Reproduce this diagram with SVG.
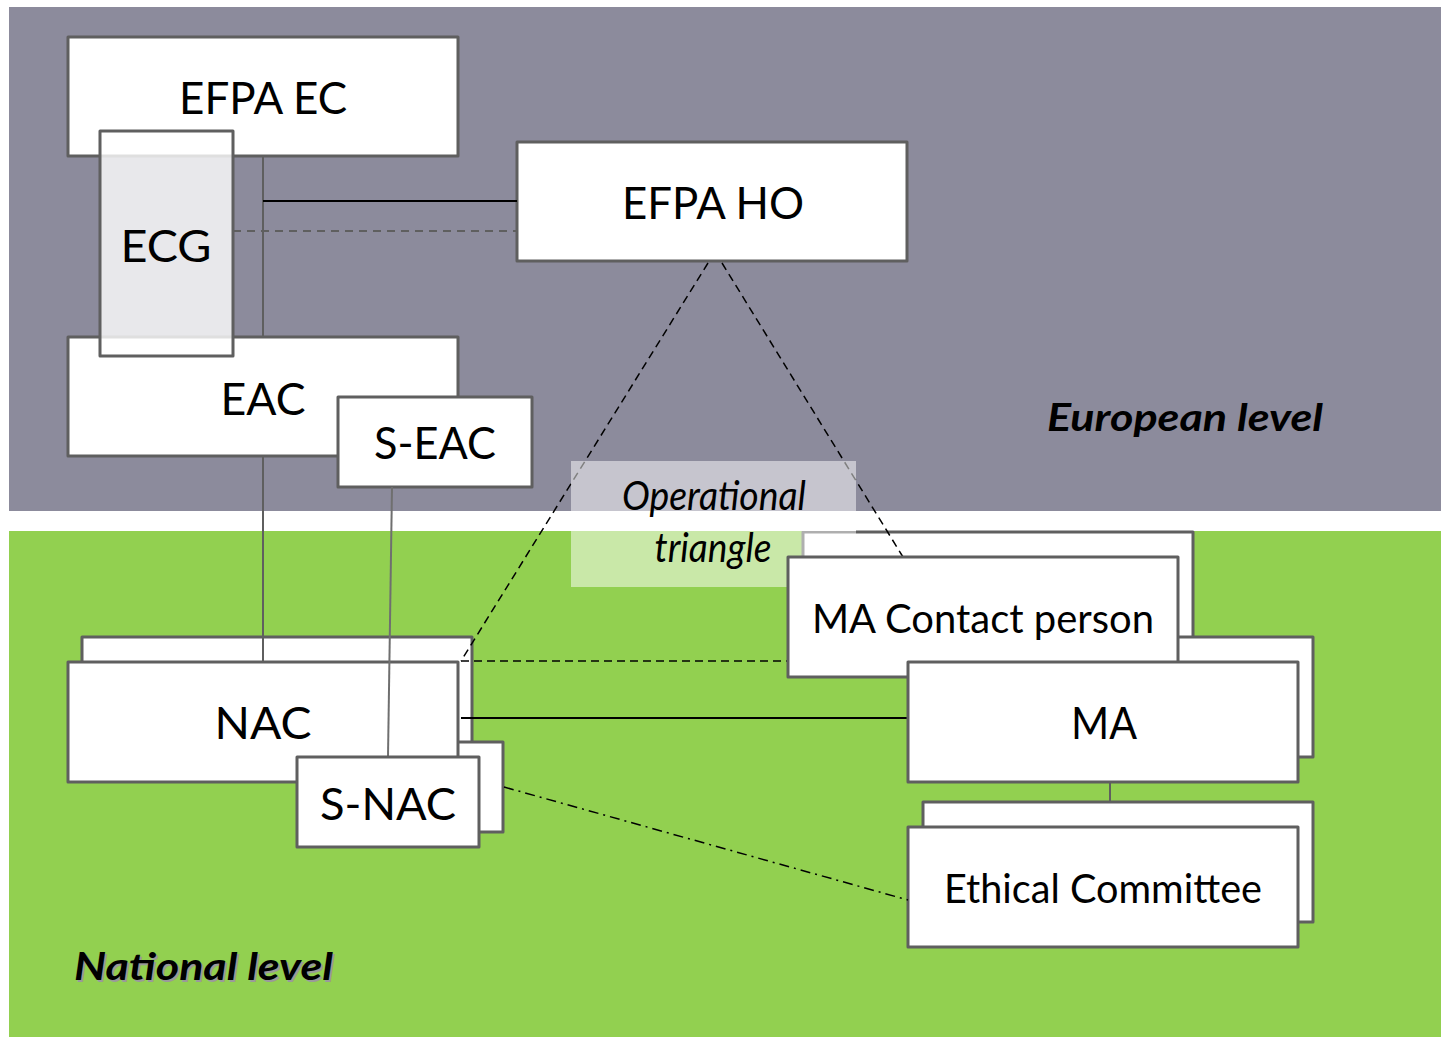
<svg xmlns="http://www.w3.org/2000/svg" width="1441" height="1037" viewBox="0 0 1441 1037">
<style>
.box{fill:#fff;stroke:#5f5f5f;stroke-width:3;stroke-linejoin:round}
.lbl{font-family:Lato,"Open Sans","Liberation Sans",sans-serif;fill:#000;text-anchor:middle}
.big{font-size:44px}
.mid{font-size:40px}
.lvl{font-family:Lato,"Open Sans","Liberation Sans",sans-serif;font-size:38px;font-weight:bold;font-style:italic}
.gl{stroke:#5f5f5f;stroke-width:2;fill:none}
.bl{stroke:#000;stroke-width:2;fill:none}
.dash{stroke:#000;stroke-width:1.5;stroke-dasharray:8 5;fill:none}
</style>
<rect width="1441" height="1037" fill="#fff"/>
<rect x="9" y="7" width="1432" height="504" fill="#8c8b9c"/>
<rect x="9" y="531" width="1432" height="506" fill="#92d050"/>
<text class="lvl" x="1047" y="431" textLength="276" lengthAdjust="spacingAndGlyphs">European level</text>
<text class="lvl" x="76" y="982" fill="#9a9a9a" textLength="259" lengthAdjust="spacingAndGlyphs">National level</text>
<text class="lvl" x="74" y="980" textLength="259" lengthAdjust="spacingAndGlyphs">National level</text>

<g id="efpa-ec"><rect class="box" x="68" y="37" width="390" height="119"/><text class="lbl big" x="263" y="114" textLength="168" lengthAdjust="spacingAndGlyphs">EFPA EC</text></g>
<g id="efpa-ho"><rect class="box" x="517" y="142" width="390" height="119"/><text class="lbl big" x="713" y="219" textLength="182" lengthAdjust="spacingAndGlyphs">EFPA HO</text></g>
<g id="eac"><rect class="box" x="68" y="337" width="390" height="119"/><text class="lbl big" x="263" y="415" textLength="85" lengthAdjust="spacingAndGlyphs">EAC</text></g>
<g id="s-eac"><rect class="box" x="338" y="397" width="194" height="90"/><text class="lbl big" x="435" y="459" textLength="122" lengthAdjust="spacingAndGlyphs">S-EAC</text></g>
<g id="nac"><rect class="box" x="82" y="637" width="390" height="120"/><rect class="box" x="321" y="742" width="182" height="90"/><rect class="box" x="68" y="662" width="390" height="120"/><text class="lbl big" x="263" y="739" textLength="97" lengthAdjust="spacingAndGlyphs">NAC</text></g>
<g id="ma-contact-stack"><rect class="box" x="803" y="532" width="390" height="120"/></g>
<g id="ma-stack"><rect class="box" x="923" y="637" width="390" height="120"/></g>
<g id="ethical-committee"><rect class="box" x="923" y="802" width="390" height="120"/><rect class="box" x="908" y="827" width="390" height="120"/><text class="lbl mid" x="1103" y="903" textLength="318" lengthAdjust="spacingAndGlyphs">Ethical Committee</text></g>

<g id="connectors">
<line class="gl" x1="263" y1="156" x2="263" y2="337"/>
<line class="bl" x1="263" y1="201" x2="517" y2="201"/>
<line x1="233" y1="231" x2="517" y2="231" stroke="#5f5f5f" stroke-width="2" stroke-dasharray="8 6"/>
<line class="gl" x1="263" y1="456" x2="263" y2="662"/>
<line x1="392" y1="487" x2="388" y2="757" stroke="#6f6f6f" stroke-width="2"/>
<line class="dash" x1="708" y1="263" x2="461" y2="661"/>
<line class="dash" x1="722" y1="263" x2="903" y2="557"/>
<line class="dash" x1="461" y1="661" x2="788" y2="661"/>
<line class="bl" x1="461" y1="718" x2="908" y2="718"/>
<line x1="504" y1="787" x2="908" y2="900" stroke="#000" stroke-width="1.5" stroke-dasharray="10 5 2 5"/>
<line class="gl" x1="1110" y1="782" x2="1110" y2="802"/>
</g>

<g id="ecg"><rect x="100" y="131" width="133" height="225" fill="#fff" fill-opacity="0.8" stroke="#5f5f5f" stroke-width="3" stroke-linejoin="round"/><text class="lbl big" x="166" y="262" textLength="91" lengthAdjust="spacingAndGlyphs">ECG</text></g>
<g id="s-nac"><rect class="box" x="297" y="757" width="182" height="90"/><text class="lbl big" x="388" y="820" textLength="136" lengthAdjust="spacingAndGlyphs">S-NAC</text></g>
<g id="operational-triangle"><rect x="571" y="461" width="285" height="126" fill="#fff" fill-opacity="0.5"/><rect x="571" y="511" width="285" height="20" fill="#fff"/><text class="lbl mid" x="714" y="510" font-style="italic" textLength="184" lengthAdjust="spacingAndGlyphs">Operational</text><text class="lbl mid" x="713" y="562" font-style="italic" textLength="117" lengthAdjust="spacingAndGlyphs">triangle</text></g>
<g id="ma-contact"><rect class="box" x="788" y="557" width="390" height="120"/><text class="lbl mid" x="983" y="633" textLength="342" lengthAdjust="spacingAndGlyphs">MA Contact person</text></g>
<g id="ma"><rect class="box" x="908" y="662" width="390" height="120"/><text class="lbl big" x="1104" y="739" textLength="66" lengthAdjust="spacingAndGlyphs">MA</text></g>
</svg>
